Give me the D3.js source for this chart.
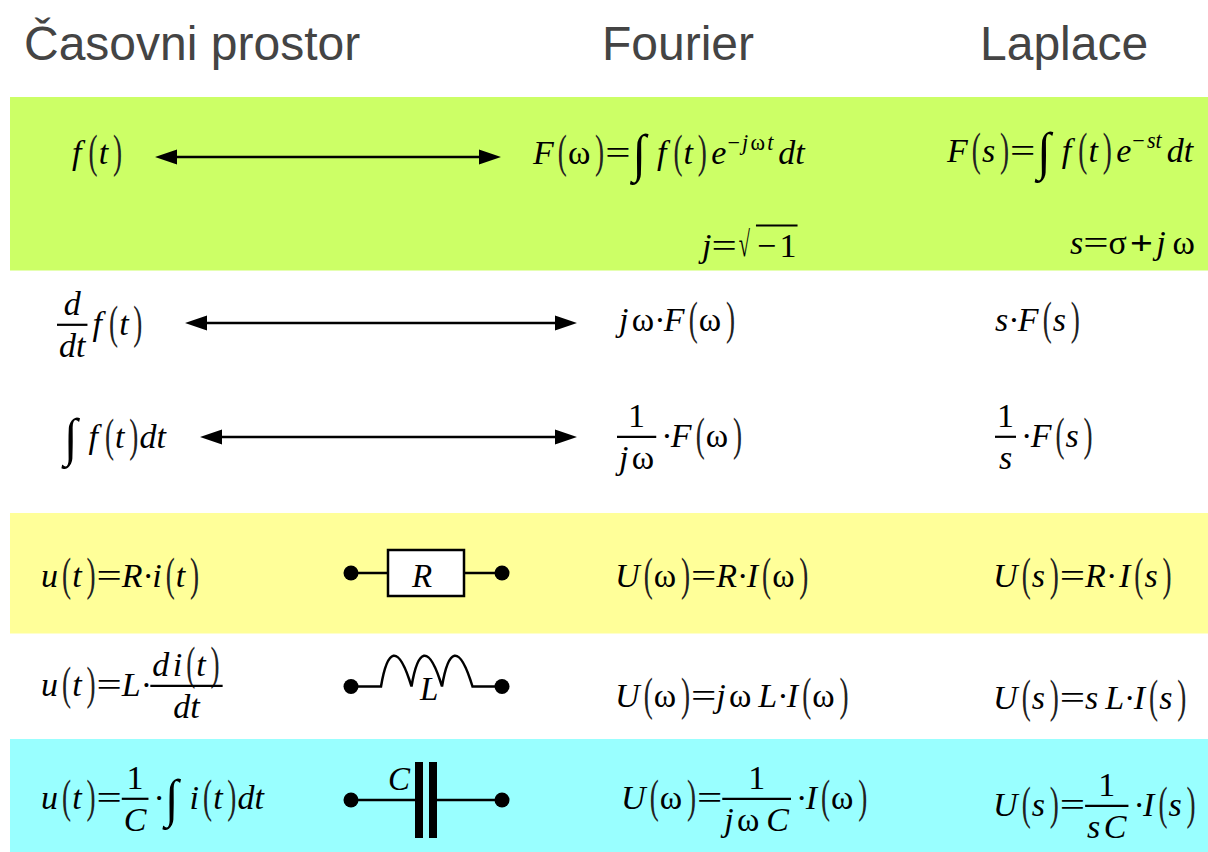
<!DOCTYPE html>
<html>
<head>
<meta charset="utf-8">
<script src="https://cdn.jsdelivr.net/npm/d3@7"></script>
<style>
  html, body { margin: 0; padding: 0; background: #fff; }
  svg { display: block; }
</style>
</head>
<body>
<svg id="chart"></svg>
<script>
// the table content
const titles = ["Časovni prostor", "Fourier", "Laplace"];
const bands = ["green", "yellow", "cyan"];
const bandColors = ["#ccff66", "#ffff99", "#99ffff"];

// \f{a}{b} = fraction, ^{a} = superscript, \r{a} = root, "_" = thin gap
const timeCol = ["f(t)", "", "\\f{d}{dt}f(t)", "∫f(t)dt",
  "u(t)=R·i(t)", "u(t)=L·\\f{d_i(t)}{dt}", "u(t)=\\f{1}{C}·∫i(t)dt"];
const fourierCol = ["F(ω)=∫f(t)_e^{−_j_ω_t}dt", "j=\\r{−1}", "j_ω·F(ω)", "\\f{1}{j_ω}·F(ω)",
  "U(ω)=R·I(ω)", "U(ω)=j_ω__L·I(ω)", "U(ω)=\\f{1}{j_ω__C}·I(ω)"];
const laplaceCol = ["F(s)=∫f(t)_e^{−_st}dt", "s=σ+j__ω", "s·F(s)", "\\f{1}{s}·F(s)",
  "U(s)=R·_I(s)", "U(s)=s__L·I(s)", "U(s)=\\f{1}{s_C}·I(s)"];

// layout, kept apart from the content
const width = 1208, height = 852, fontSize = 34;
const serif = "'Liberation Serif', serif";
const bandTop = d3.scaleOrdinal().domain(bands).range([97, 513, 739]);
const bandBottom = d3.scaleOrdinal().domain(bands).range([270.5, 633.5, 852]);
const titleX = [24, 602, 980];
const timeX = [72, 0, 57, 62, 41, 41, 41];
const timeY = [164, 0, 335, 448, 587, 696, 809];
const fourierX = [533, 702, 619, 617, 615, 615, 621];
const fourierY = [164, 257, 331, 447, 587, 707, 809];
const laplaceX = [947, 1070, 995, 995, 993, 993, 993];
const laplaceY = [162, 254, 331, 447, 587, 709, 816];
const arrowRows = ["def", "deriv", "integ"];
const arrowFrom = [155, 185, 200];
const arrowTo = [501, 577, 577];
const arrowY = d3.scaleOrdinal().domain(arrowRows).range([157, 323, 437]);

const svg = d3.select("#chart").attr("width", width).attr("height", height);

// bands
svg.selectAll("rect.band")
    .data(bands)
    .enter()
    .append("rect")
    .attr("class", "band")
    .attr("x", 10)
    .attr("y", function(d) { return bandTop(d); })
    .attr("width", width - 10)
    .attr("height", function(d) { return bandBottom(d) - bandTop(d); })
    .attr("fill", function(d, i) { return bandColors[i]; });

// column titles
svg.selectAll("text.title")
    .data(titles)
    .enter()
    .append("text")
    .attr("class", "title")
    .attr("x", function(d, i) { return titleX[i]; })
    .attr("y", 60)
    .attr("font-family", "'Liberation Sans', sans-serif")
    .attr("font-size", 48)
    .attr("fill", "#444444")
    .text(function(d) { return d; });

// small formula typesetter, returns the width it used
function atom(g, ch, x, y, size) {
    const upright = /[0-9ωσ=+−·]/.test(ch);
    // relation signs are drawn wider than the plain glyph
    const sx = ch === "=" ? 1.32 : (ch === "+" ? 1.2 : 1);
    const side = ch === "+" ? 3 : 0;
    const t = g.append("text")
        .attr("transform", "translate(" + (x + side) + "," + y + ") scale(" + sx + ",1)")
        .attr("font-family", serif)
        .attr("font-size", size)
        .attr("font-style", upright ? "normal" : "italic")
        .attr("font-weight", ch === "+" ? "bold" : "normal")
        .attr("fill", "#000")
        .text(ch);
    let w = t.node().getComputedTextLength() * sx + 2 * side;
    if (ch === "f") w += size * 0.09;
    if (ch === "·") w -= size * 0.05;
    return w;
}

// tall thin bracket: the glyph is stretched around the math axis
function bracket(g, ch, x, y, size) {
    const sx = 0.8, sy = 1.36, axis = y - size * 0.28;
    const before = ch === "(" ? size * 0.12 : size * 0.14;
    const t = g.append("text")
        .attr("font-family", serif)
        .attr("font-size", size)
        .attr("fill", "#222")
        .attr("transform", "translate(" + (x + before) + "," + axis + ") scale(" + sx + "," + sy + ") translate(0," + (size * 0.28) + ")")
        .text(ch);
    return before + t.node().getComputedTextLength() * sx + size * 0.03;
}

function integral(g, x, y, size) {
    const sx = 1.45, sy = 1.55;
    const t = g.append("text")
        .attr("font-family", serif)
        .attr("font-size", size)
        .attr("fill", "#000")
        .attr("transform", "translate(" + (x + 2) + "," + (y + size * 0.22) + ") scale(" + sx + "," + sy + ")")
        .text("∫");
    return t.node().getComputedTextLength() * sx + size * 0.38;
}

// reads the {...} group starting at position i
function group(s, i) {
    let depth = 0, j = i;
    do {
        if (s[j] === "{") depth++;
        if (s[j] === "}") depth--;
        j++;
    } while (depth > 0);
    return [s.slice(i + 1, j - 1), j];
}

function typeset(g, s, x0, y, size) {
    let x = x0, i = 0;
    while (i < s.length) {
        const ch = s[i];
        if (ch === "\\" && s[i + 1] === "f") {
            const a = group(s, i + 2), b = group(s, a[1]);
            const probe = g.append("g").attr("opacity", 0);
            const wn = typeset(probe, a[0], 0, 0, size);
            const wd = typeset(probe, b[0], 0, 0, size);
            probe.remove();
            const w = Math.max(wn, wd) + 4, bar = y - size * 0.3;
            typeset(g, a[0], x + (w - wn) / 2, bar - size * 0.3, size);
            typeset(g, b[0], x + (w - wd) / 2, bar + size * 0.95, size);
            g.append("line")
                .attr("x1", x).attr("x2", x + w)
                .attr("y1", bar).attr("y2", bar)
                .attr("stroke", "#000")
                .attr("stroke-width", 2.2);
            x += w + 5;
            i = b[1];
        } else if (ch === "\\" && s[i + 1] === "r") {
            const a = group(s, i + 2);
            const t = g.append("text")
                .attr("font-family", serif)
                .attr("font-size", size)
                .attr("fill", "#000")
                .attr("transform", "translate(" + (x + 2) + "," + (y - 1) + ") scale(0.6,1.05)")
                .text("√");
            const rw = t.node().getComputedTextLength() * 0.6 + 8;
            const w = typeset(g, a[0].replace("−", "−_"), x + rw + 1, y, size);
            g.append("line")
                .attr("x1", x + rw).attr("x2", x + rw + w + 2)
                .attr("y1", y - size * 0.93).attr("y2", y - size * 0.93)
                .attr("stroke", "#000")
                .attr("stroke-width", 2);
            x += rw + w + 3;
            i = a[1];
        } else if (ch === "^") {
            const a = group(s, i + 1);
            x += typeset(g, a[0], x + 1, y - size * 0.42, size * 0.65) + 6;
            i = a[1];
        } else if (ch === "_") {
            x += size * 0.1;
            i++;
        } else if (ch === "(" || ch === ")") {
            x += bracket(g, ch, x, y, size);
            i++;
        } else if (ch === "∫") {
            x += integral(g, x, y, size);
            i++;
        } else {
            x += atom(g, ch, x, y, size);
            i++;
        }
    }
    return x - x0;
}

function column(formulas, xs, ys) {
    formulas.forEach(function(f, i) {
        if (f) typeset(svg.append("g").attr("class", "formula"), f, xs[i], ys[i], fontSize);
    });
}
column(timeCol, timeX, timeY);
column(fourierCol, fourierX, fourierY);
column(laplaceCol, laplaceX, laplaceY);

// double headed arrows
const headLen = 22, headHalf = 7.5;
arrowRows.forEach(function(r, i) {
    const a = arrowFrom[i], b = arrowTo[i], y = arrowY(r);
    svg.append("line")
        .attr("x1", a + headLen - 2).attr("x2", b - headLen + 2)
        .attr("y1", y).attr("y2", y)
        .attr("stroke", "#000")
        .attr("stroke-width", 2.5);
    const p = d3.path();
    p.moveTo(a, y); p.lineTo(a + headLen, y - headHalf); p.lineTo(a + headLen, y + headHalf); p.closePath();
    p.moveTo(b, y); p.lineTo(b - headLen, y - headHalf); p.lineTo(b - headLen, y + headHalf); p.closePath();
    svg.append("path").attr("d", p.toString()).attr("fill", "#000");
});

// circuit symbols
const termL = 351, termR = 502, termRadius = 7.5;
const symbolY = [573, 686.5, 800];

function wire(x1, x2, y) {
    svg.append("line")
        .attr("x1", x1).attr("x2", x2)
        .attr("y1", y).attr("y2", y)
        .attr("stroke", "#000")
        .attr("stroke-width", 2.5);
}
function label(ch, x, y) {
    atom(svg, ch, x, y, 33);
}

svg.selectAll("g.terminals")
    .data(symbolY)
    .enter()
    .append("g")
    .attr("class", "terminals")
    .selectAll("circle")
    .data(function(y) { return [termL, termR].map(function(x) { return {x: x, y: y}; }); })
    .enter()
    .append("circle")
    .attr("cx", function(d) { return d.x; })
    .attr("cy", function(d) { return d.y; })
    .attr("r", termRadius)
    .attr("fill", "#000");

// resistor
wire(termL, 388, symbolY[0]);
wire(464, termR, symbolY[0]);
svg.append("rect")
    .attr("x", 388).attr("y", 550)
    .attr("width", 76).attr("height", 46)
    .attr("fill", "#fff")
    .attr("stroke", "#000")
    .attr("stroke-width", 2.5);
label("R", 412, 587);

// inductor: three humps
const coil = d3.path(), humpTop = 651, humpW = 30.5;
coil.moveTo(termL, symbolY[1]);
coil.lineTo(381, symbolY[1]);
[381, 381 + humpW, 381 + 2 * humpW].forEach(function(x) {
    coil.bezierCurveTo(x + humpW * 0.2, humpTop - 1, x + humpW * 0.55, humpTop - 10, x + humpW, symbolY[1]);
});
coil.lineTo(termR, symbolY[1]);
svg.append("path")
    .attr("d", coil.toString())
    .attr("fill", "none")
    .attr("stroke", "#000")
    .attr("stroke-width", 2.5);
label("L", 420, 700);

// capacitor
wire(termL, 415, symbolY[2]);
wire(437, termR, symbolY[2]);
[415, 429].forEach(function(x) {
    svg.append("rect")
        .attr("x", x).attr("y", 762)
        .attr("width", 8).attr("height", 76)
        .attr("fill", "#000");
});
label("C", 388, 790);
</script>
</body>
</html>
